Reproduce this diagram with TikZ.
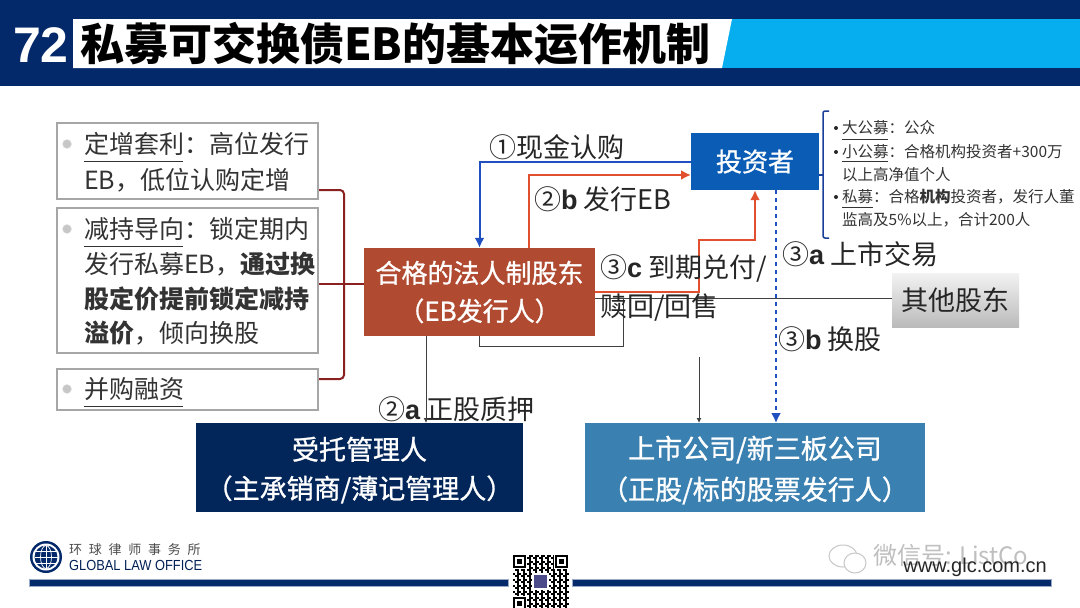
\documentclass[tikz,border=0pt]{standalone}
\usepackage{fontspec}
\setmainfont{Noto Sans CJK SC}
\newfontfamily\latinbold{Liberation Sans}
\newfontfamily\latinlogo[FakeStretch=.88]{Liberation Sans}
\newfontfamily\trackfont[LetterSpace=52]{Noto Sans CJK SC}
\newfontfamily\midfont[FakeBold=1]{Noto Sans CJK SC}
\usetikzlibrary{arrows.meta,positioning}
\definecolor{glonavy}{HTML}{03296B}
\definecolor{glocyan}{HTML}{06AEEF}
\definecolor{gloissuer}{HTML}{B04A30}
\definecolor{gloinvest}{HTML}{0B5CB5}
\definecolor{glotrustee}{HTML}{03265A}
\definecolor{glolisted}{HTML}{3A80B0}
\definecolor{globlue}{HTML}{1F4FC0}
\definecolor{glored}{HTML}{E0502E}
\definecolor{globrace}{HTML}{8B2020}
\definecolor{glotext}{HTML}{333333}
\newcommand{\fs}[1]{\fontsize{#1}{#1}\selectfont}
\newcommand{\sub}[1]{{\latinbold\bfseries #1}}
\newcommand{\lift}{\rule{0pt}{28pt}}
\tikzset{
  glolist/.style={draw=black!35,line width=1.2pt,fill=white,inner sep=0pt},
  globullet/.style={circle,fill=black!22,draw=black!12,minimum size=9pt,inner sep=0pt},
  glotxt/.style={anchor=west,inner sep=0pt,align=left,text=glotext,font=\fs{25}},
  glolabel/.style={anchor=west,inner sep=0pt,text=black!85,font=\fs{27}},
  glosmall/.style={anchor=west,inner sep=0pt,align=left,text=glotext,font=\fs{15.5}},
  glostage/.style={inner sep=0pt,align=center,text=white},
  gloline/.style={line width=1pt,black!75},
  glothin/.style={-{Latex[length=5pt,width=5pt]},line width=1pt,black!75},
  gloflowblue/.style={-{Latex[length=10pt,width=10pt]},line width=2pt,globlue},
  gloflowred/.style={-{Latex[length=10pt,width=10pt]},line width=2.6pt,glored},
  glouline/.style={line width=1pt,black!80},
  globar/.style={fill=glonavy,draw=glonavy!40,line width=.6pt}
}
\begin{document}
\begin{tikzpicture}[x=1pt,y=-1pt]
  \useasboundingbox (0,0) rectangle (1080,608);
  \fill[white] (0,0) rectangle (1080,608);

  % header
  \fill[glonavy] (0,0) rectangle (1080,86);
  \fill[glocyan] (722,19) rectangle (1080,68);
  \fill[white] (73,19) -- (732,19) -- (722,68) -- (73,68) -- cycle;
  \node[anchor=center,inner sep=0pt,text=white,font=\latinbold\bfseries\fs{50}] (number) at (41,45) {72};
  \node[anchor=west,inner sep=0pt,text=black,font=\bfseries\fs{44}] (title) at (80,44)
    {私募可交换债EB的基本运作机制};

  % left list
  \node[glolist,minimum width=261pt,minimum height=76pt] (arbitrage) at (187.5,161) {};
  \node[glolist,minimum width=261pt,minimum height=145pt] (reduce) at (187.5,280.5) {};
  \node[glolist,minimum width=261pt,minimum height=41pt] (merger) at (187.5,389.5) {};
  \node[globullet] (bulleta) at (67,144) {};
  \node[globullet] (bulletb) at (67,229) {};
  \node[globullet] (bulletc) at (67,389) {};
  \node[glotxt] (arbitragetext) at (84,162)
    {定增套利：高位发行\\[11pt]EB，低位认购定增};
  \node[glotxt] (reducetext) at (84,281)
    {减持导向：锁定期内\\[10pt]发行私募EB，\textbf{通过换}\\[10pt]\textbf{股定价提前锁定减持}\\[9pt]\textbf{溢价}，倾向换股};
  \node[glotxt] (mergertext) at (84,389) {并购融资};
  \draw[glouline] (84,161) -- (183,161);
  \draw[glouline] (84,246) -- (183,246);
  \draw[glouline] (84,406) -- (183,406);

  % stages
  \node[glostage,fill=gloissuer,minimum width=231pt,minimum height=88pt,font=\midfont\fs{26}] (issuer) at (479.5,292)
    {合格的法人制股东\\[12pt]（EB发行人）};
  \node[glostage,fill=gloinvest,minimum width=128pt,minimum height=57pt,font=\midfont\fs{26}] (investor) at (755,161.5)
    {投资者};
  \node[glostage,top color=black!5,bottom color=black!27,minimum width=127pt,minimum height=54pt,text=black!85,font=\fs{27}] (other) at (955.5,300)
    {其他股东};
  \node[glostage,fill=glotrustee,minimum width=327pt,minimum height=89pt,font=\midfont\fs{27}] (trustee) at (359.5,467.5)
    {\lift 受托管理人\\[12pt]（主承销商/薄记管理人）};
  \node[glostage,fill=glolisted,minimum width=340pt,minimum height=89pt,font=\midfont\fs{27}] (listed) at (755,467.5)
    {\lift 上市公司/新三板公司\\[12pt]（正股/标的股票发行人）};

  % brace to issuer
  \coordinate (bracetop) at (319,190);
  \coordinate (bracemid) at (319,284);
  \coordinate (bracelow) at (319,379);
  \coordinate (bracein) at (364,284);
  \draw[line width=2pt,globrace,rounded corners=4pt] (bracetop) -- (344,190) -- (344,379) -- (bracelow);
  \draw[line width=2pt,globrace] (bracemid) -- (bracein);

  % flows
  \coordinate (redout) at (529,248);
  \coordinate (redin) at (691,175);
  \coordinate (redbend) at (699,240);
  \coordinate (dotout) at (776,190);
  \coordinate (dotin) at (776,423);
  \coordinate (otherout) at (595,298);
  \coordinate (otherin) at (892,298);
  \coordinate (pledgeout) at (426,336);
  \coordinate (pledgein) at (426,423);
  \coordinate (stockout) at (699,357);
  \coordinate (stockin) at (699,423);
  \coordinate (holdout) at (623,298);

  \draw[gloflowblue] (investor.west) -| (issuer.north);
  \draw[gloflowred] (redout) |- (redin);
  \draw[gloflowred] (issuer.east) -| (redbend) -| (investor.south);
  \draw[gloflowblue,line width=2.4pt,dash pattern=on 4pt off 4pt] (dotout) -- (dotin);
  \draw[gloline] (otherout) -- (otherin);
  \draw[gloline] (issuer.south) |- (623,346) -- (holdout);
  \draw[glothin] (pledgeout) -- (pledgein);
  \draw[glothin] (stockout) -- (stockin);

  % flow labels
  \node[glolabel] (cash) at (489,147) {①现金认购};
  \node[glolabel] (issue) at (534,199) {②\sub{b} 发行EB};
  \node[glolabel] (maturity) at (600,268) {③\sub{c} 到期兑付/};
  \node[glolabel] (redeem) at (600,308) {赎回/回售};
  \node[glolabel] (trade) at (782,254) {③\sub{a} 上市交易};
  \node[glolabel] (convert) at (778,339) {③\sub{b} 换股};
  \node[glolabel] (pledge) at (378,409) {②\sub{a} 正股质押};

  % investor notes
  \coordinate (notetick) at (823,175);
  \coordinate (notefrom) at (819,175);
  \draw[line width=1.5pt,globlue!80!black,rounded corners=2pt] (829,111) -- (823,111) -- (823,238) -- (829,238);
  \draw[line width=1.5pt,globlue!80!black] (notefrom) -- (notetick);
  \node[glosmall] (notea) at (842,128) {大公募：公众};
  \node[glosmall] (noteb) at (842,163) {小公募：合格机构投资者+300万\\[7pt]以上高净值个人};
  \node[glosmall] (notec) at (842,208) {私募：合格\textbf{机构}投资者，发行人董\\[7pt]监高及5\%以上，合计200人};
  \fill[black!85] (836,128) circle (2pt);
  \fill[black!85] (836,152) circle (2pt);
  \fill[black!85] (836,197) circle (2pt);
  \draw[glouline,line width=.7pt] (842,139) -- (888,139);
  \draw[glouline,line width=.7pt] (842,161) -- (888,161);
  \draw[glouline,line width=.7pt] (842,207) -- (873,207);

  % footer
  \fill[glonavy] (46,557) circle (16);
  \fill[white] (46,557) circle (13.5);
  \fill[glonavy] (46,557) circle (11.5);
  \draw[white,line width=.7pt] (46,545.5) -- (46,568.5) (34.5,557) -- (57.5,557) (36,551) -- (56,551) (36,563) -- (56,563);
  \draw[white,line width=.7pt] (46,557) ellipse (5.5 and 11.5);
  \node[anchor=west,inner sep=0pt,text=black!70,font=\trackfont\fs{13}] (logocn) at (69,550) {环球律师事务所};
  \node[anchor=west,inner sep=0pt,text=glonavy!80!black,font=\latinlogo\fs{14.6}] (logoen) at (69,565) {GLOBAL LAW OFFICE};
  \path[globar] (29,579) rectangle (508,586);
  \path[globar] (572,579) rectangle (1051,586);

  % qr
  \foreach \i in {0,...,27} {
    \foreach \j in {0,...,26} {
      \pgfmathtruncatemacro{\qrbit}{mod(\i*\i*7+\j*\j*3+\i*\j*5+\i+2*\j,3)}
      \ifnum\qrbit=0
        \fill[black] (513+2*\i,555+2*\j) rectangle +(2,2);
      \fi
    }
  }
  \foreach \qx/\qy in {513/555,555/555,513/597} {
    \fill[white] (\qx-1,\qy-1) rectangle +(15,15);
    \fill[black] (\qx,\qy) rectangle +(13,13);
    \fill[white] (\qx+2,\qy+2) rectangle +(9,9);
    \fill[black] (\qx+4,\qy+4) rectangle +(5,5);
  }
  \fill[white] (532,573) rectangle +(17,17);
  \fill[blue!35!black!70] (534,575) rectangle +(13,13);

  % watermark
  \draw[black!22,line width=1pt] (843,556) ellipse (14 and 11);
  \draw[black!22,line width=1pt,fill=white] (855,563) ellipse (11 and 10);
  \node[anchor=west,inner sep=0pt,text=black!25,font=\fs{24}] (mark) at (873,555) {微信号: ListCo};
  \node[anchor=east,inner sep=0pt,text=black!85,font=\latinbold\fs{20}] (site) at (1047,567) {www.glc.com.cn};
\end{tikzpicture}
\end{document}
